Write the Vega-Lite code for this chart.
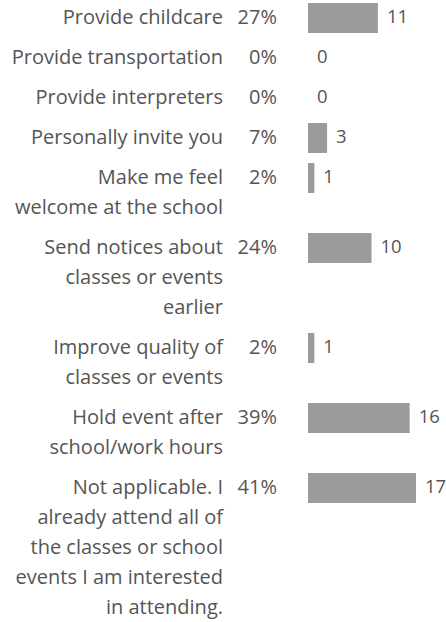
{
  "$schema": "https://vega.github.io/schema/vega-lite/v6.json",
  "width": 446,
  "height": 622,
  "autosize": "none",
  "padding": 0,
  "background": "white",
  "config": {"view": {"stroke": null}, "text": {"font": "Open Sans", "fontSize": 20, "color": "#555555", "lineHeight": 30, "baseline": "line-top"}},
  "data": {
    "values": [
      {"label": ["Provide childcare"], "pct": 0.27, "count": 11},
      {"label": ["Provide transportation"], "pct": 0.0, "count": 0},
      {"label": ["Provide interpreters"], "pct": 0.0, "count": 0},
      {"label": ["Personally invite you"], "pct": 0.07, "count": 3},
      {"label": ["Make me feel", "welcome at the school"], "pct": 0.02, "count": 1},
      {"label": ["Send notices about", "classes or events", "earlier"], "pct": 0.24, "count": 10},
      {"label": ["Improve quality of", "classes or events"], "pct": 0.02, "count": 1},
      {"label": ["Hold event after", "school/work hours"], "pct": 0.39, "count": 16},
      {"label": ["Not applicable. I", "already attend all of", "the classes or school", "events I am interested", "in attending."], "pct": 0.41, "count": 17}
    ]
  },
  "transform": [
    {"calculate": "30 * length(datum.label) + 10", "as": "h"},
    {"window": [{"op": "sum", "field": "h", "as": "cum"}], "frame": [null, 0]},
    {"calculate": "datum.cum - datum.h + 5", "as": "top"},
    {"calculate": "datum.cum - datum.h + 35", "as": "bot"}
  ],
  "layer": [
    {
      "mark": {"type": "rect", "color": "#9b9b9b"},
      "encoding": {
        "x": {"field": "count", "type": "quantitative", "axis": null, "scale": {"domain": [0, 17], "range": [308, 416], "nice": false, "zero": false}},
        "x2": {"datum": 0},
        "y": {"field": "top", "type": "quantitative", "axis": null, "scale": {"domain": [2, 624], "range": [0, 622], "nice": false, "zero": false}},
        "y2": {"field": "bot"}
      }
    },
    {
      "mark": {"type": "text", "align": "right"},
      "encoding": {
        "x": {"datum": -13.38, "type": "quantitative"},
        "y": {"field": "top", "type": "quantitative"},
        "text": {"field": "label", "type": "nominal"}
      }
    },
    {
      "mark": {"type": "text", "align": "right"},
      "encoding": {
        "x": {"datum": -4.88, "type": "quantitative"},
        "y": {"field": "top", "type": "quantitative"},
        "text": {"field": "pct", "type": "quantitative", "format": ".0%"}
      }
    },
    {
      "mark": {"type": "text", "align": "left", "dx": 9, "fontSize": 18.5},
      "encoding": {
        "x": {"field": "count", "type": "quantitative"},
        "y": {"field": "top", "type": "quantitative"},
        "text": {"field": "count", "type": "quantitative"}
      }
    }
  ]
}
